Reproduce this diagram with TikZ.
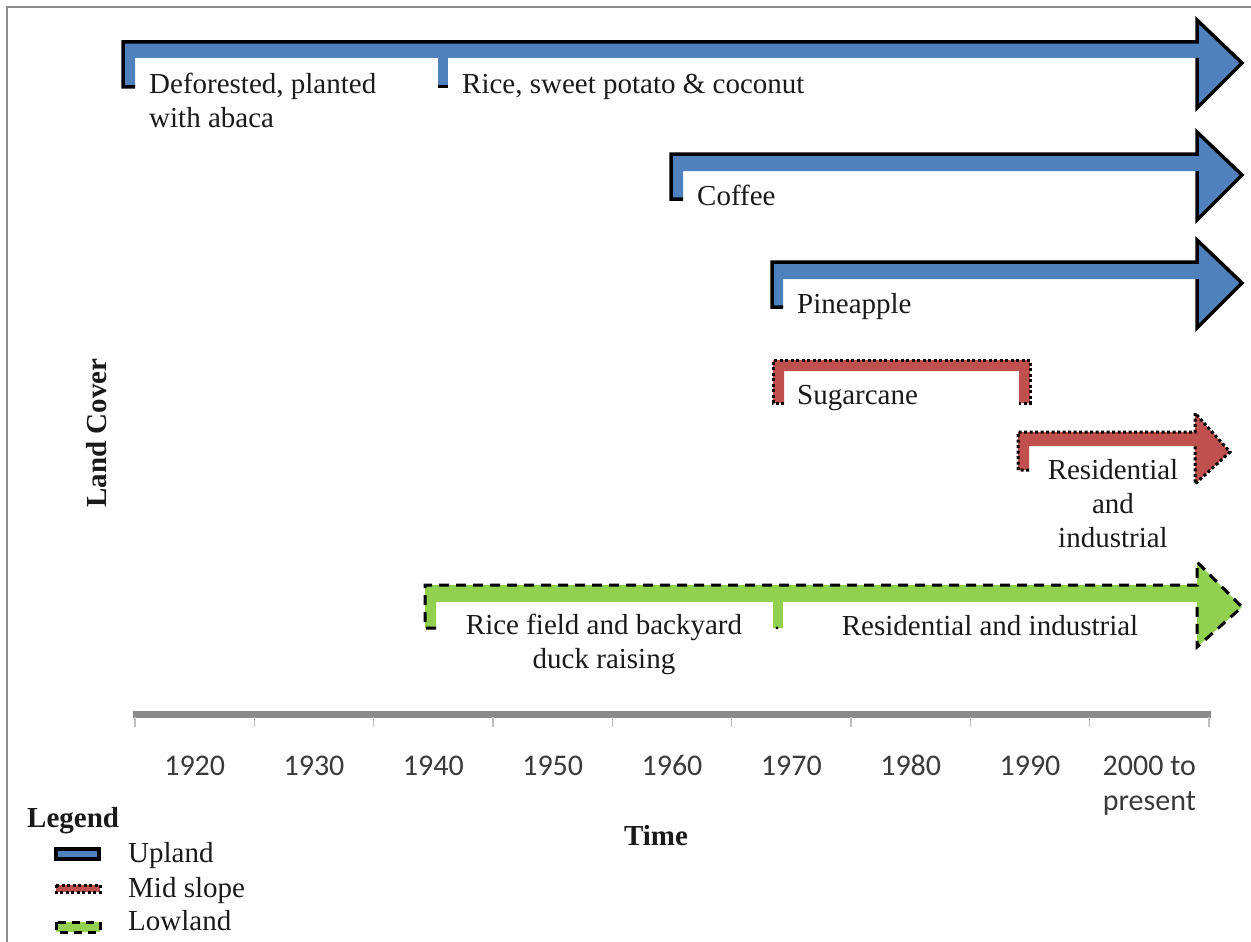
\documentclass[tikz,border=0pt]{standalone}
\usepackage{fontspec}
\setmainfont{Liberation Serif}
\newfontfamily\yrfont{Carlito}
\definecolor{upblue}{HTML}{4F81BD}
\definecolor{midred}{HTML}{C0504D}
\definecolor{lowgreen}{HTML}{92D050}
\definecolor{txt}{HTML}{1A1A1A}
\definecolor{axtxt}{HTML}{3A3A3A}
\definecolor{axline}{HTML}{8A8A8A}
\definecolor{tickc}{HTML}{C0C0C0}
\definecolor{framec}{HTML}{8C8C8C}
\tikzset{
  lbl/.style={font=\fontsize{29}{34}\selectfont, text=txt, inner sep=0pt},
  boldlbl/.style={font=\bfseries\fontsize{29}{34}\selectfont, text=txt, inner sep=0pt},
  yr/.style={font=\yrfont\fontsize{30}{35}\selectfont, text=axtxt, inner sep=0pt, align=center},
  upline/.style={draw=black, line width=3.5pt, line join=miter},
  midline/.style={draw=black, line width=3pt, dash pattern=on 3pt off 2.5pt},
  lowline/.style={draw=black, line width=3pt, dash pattern=on 10pt off 7pt},
}
\begin{document}
\begin{tikzpicture}[x=1pt,y=-1pt]
\useasboundingbox (0,0) rectangle (1251,942);
% frame
\draw[framec, line width=2pt] (7,942) -- (7,7) -- (1251,7);

% ---- Upland arrow 1
\fill[upblue] (123,87) -- (123,42) -- (1197,42) -- (1197,20) -- (1242,63) -- (1197,108) -- (1197,58) -- (135,58) -- (135,87) -- cycle;
\fill[upblue] (438,58) rectangle (448,87);
\draw[upline] (135,87) -- (123,87) -- (123,42) -- (1197,42) -- (1197,20) -- (1242,63) -- (1197,108) -- (1197,58);
\draw[black, line width=3pt] (438,87) -- (448,87);
% ---- Upland arrow 2 (Coffee)
\fill[upblue] (671,199) -- (671,154) -- (1197,154) -- (1197,132) -- (1242,175) -- (1197,220) -- (1197,171) -- (683,171) -- (683,199) -- cycle;
\draw[upline] (683,199) -- (671,199) -- (671,154) -- (1197,154) -- (1197,132) -- (1242,175) -- (1197,220) -- (1197,171);
% ---- Upland arrow 3 (Pineapple)
\fill[upblue] (772,307) -- (772,262) -- (1197,262) -- (1197,240) -- (1242,283) -- (1197,328) -- (1197,279) -- (783,279) -- (783,307) -- cycle;
\draw[upline] (783,307) -- (772,307) -- (772,262) -- (1197,262) -- (1197,240) -- (1242,283) -- (1197,328) -- (1197,279);

% ---- Mid slope: Sugarcane bracket
\fill[midred] (773,403) -- (773,360) -- (1030,360) -- (1030,403) -- (1019,403) -- (1019,371) -- (784,371) -- (784,403) -- cycle;
\draw[midline] (784,403) -- (773,403) -- (773,360) -- (1030,360) -- (1030,403) -- (1019,403);
% ---- Mid slope arrow
\fill[midred] (1018,470) -- (1018,432) -- (1195,432) -- (1195,413) -- (1230,452) -- (1195,484) -- (1195,446) -- (1029,446) -- (1029,470) -- cycle;
\draw[midline] (1029,470) -- (1018,470) -- (1018,432) -- (1195,432) -- (1195,413) -- (1230,452) -- (1195,484) -- (1195,446);

% ---- Lowland arrow
\fill[lowgreen] (425,628) -- (425,585) -- (1197,585) -- (1197,562) -- (1242,607) -- (1197,647) -- (1197,602) -- (436,602) -- (436,628) -- cycle;
\fill[lowgreen] (773,602) rectangle (783,628);
\draw[lowline] (436,628) -- (425,628) -- (425,585) -- (1197,585) -- (1197,562) -- (1242,607) -- (1197,647) -- (1197,602);
\fill[black] (777,628) circle (1.6pt);

% ---- labels (base anchor of a multi-line node = baseline of its last line)
\node[lbl, anchor=base west, align=left] (deforest) at (149,127) {Deforested, planted\\with abaca};
\node[lbl, anchor=base west] (rice) at (462,93) {Rice, sweet potato \& coconut};
\node[lbl, anchor=base west] (coffee) at (697,205) {Coffee};
\node[lbl, anchor=base west] (pine) at (797,313) {Pineapple};
\node[lbl, anchor=base west] (sugar) at (797,404) {Sugarcane};
\node[lbl, anchor=base, align=center] (resmid) at (1113,547) {Residential\\and\\industrial};
\node[lbl, anchor=base, align=center] (ricefield) at (604,668) {Rice field and backyard\\duck raising};
\node[lbl, anchor=base] (reslow) at (990,635) {Residential and industrial};

% ---- time axis
\draw[axline, line width=7pt] (133,714) -- (1211,714);
\foreach \i in {0,...,9} {
  \draw[tickc, line width=1.5pt] ({135+119.33*\i},717) -- ({135+119.33*\i},727);
}
\node[yr, anchor=base] (y1920) at (194.7,775) {1920};
\node[yr, anchor=base] (y1930) at (314.0,775) {1930};
\node[yr, anchor=base] (y1940) at (433.3,775) {1940};
\node[yr, anchor=base] (y1950) at (552.7,775) {1950};
\node[yr, anchor=base] (y1960) at (672.0,775) {1960};
\node[yr, anchor=base] (y1970) at (791.3,775) {1970};
\node[yr, anchor=base] (y1980) at (910.7,775) {1980};
\node[yr, anchor=base] (y1990) at (1030.0,775) {1990};
\node[yr, anchor=base] (y2000) at (1149.3,810) {2000 to\\present};

\node[boldlbl, anchor=base] (time) at (656,845) {Time};
\node[boldlbl, anchor=base, rotate=90] (landcover) at (106,433) {Land Cover};

% ---- legend
\node[boldlbl, anchor=base west] (legend) at (27,827) {Legend};
\filldraw[fill=upblue, draw=black, line width=3.5pt] (56,849) rectangle (99,859);
\filldraw[fill=midred, midline] (56,885) rectangle (100,892);
\filldraw[fill=lowgreen, draw=black, line width=3pt, dash pattern=on 8pt off 6pt] (56,922) rectangle (100,932);
\node[lbl, anchor=base west] (lgup) at (128,862) {Upland};
\node[lbl, anchor=base west] (lgmid) at (128,897) {Mid slope};
\node[lbl, anchor=base west] (lglow) at (128,930) {Lowland};
\end{tikzpicture}
\end{document}
